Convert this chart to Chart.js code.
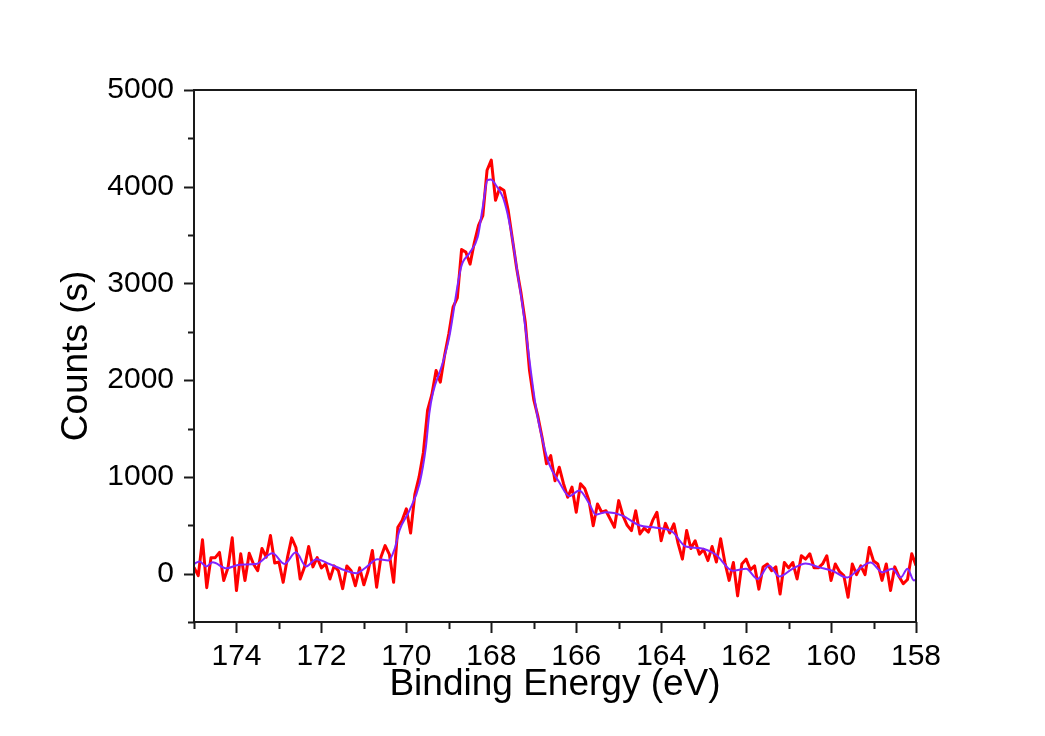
<!DOCTYPE html>
<html>
<head>
<meta charset="utf-8">
<title>XPS S 2p</title>
<script src="https://cdn.jsdelivr.net/npm/chart.js@4/dist/chart.umd.min.js"></script>
<style>
  html, body { margin: 0; padding: 0; background: #fff; }
  #wrap { position: relative; width: 1045px; height: 736px; }
</style>
</head>
<body>
<div id="wrap"><canvas id="xps"></canvas></div>
<script>
// Espectro medido (rojo), energía de enlace en eV
const energiaMedida = [
  175.0, 174.9, 174.8, 174.7, 174.6, 174.5, 174.4, 174.3, 174.2, 174.1,
  174.0, 173.9, 173.8, 173.7, 173.6, 173.5, 173.4, 173.3, 173.2, 173.1,
  173.0, 172.9, 172.8, 172.7, 172.6, 172.5, 172.4, 172.3, 172.2, 172.1,
  172.0, 171.9, 171.8, 171.7, 171.6, 171.5, 171.4, 171.3, 171.2, 171.1,
  171.0, 170.9, 170.8, 170.7, 170.6, 170.5, 170.4, 170.3, 170.2, 170.1,
  170.0, 169.9, 169.8, 169.7, 169.6, 169.5, 169.4, 169.3, 169.2, 169.1,
  169.0, 168.9, 168.8, 168.7, 168.6, 168.5, 168.4, 168.3, 168.2, 168.1,
  168.0, 167.9, 167.8, 167.7, 167.6, 167.5, 167.4, 167.3, 167.2, 167.1,
  167.0, 166.9, 166.8, 166.7, 166.6, 166.5, 166.4, 166.3, 166.2, 166.1,
  166.0, 165.9, 165.8, 165.7, 165.6, 165.5, 165.4, 165.3, 165.2, 165.1,
  165.0, 164.9, 164.8, 164.7, 164.6, 164.5, 164.4, 164.3, 164.2, 164.1,
  164.0, 163.9, 163.8, 163.7, 163.6, 163.5, 163.4, 163.3, 163.2, 163.1,
  163.0, 162.9, 162.8, 162.7, 162.6, 162.5, 162.4, 162.3, 162.2, 162.1,
  162.0, 161.9, 161.8, 161.7, 161.6, 161.5, 161.4, 161.3, 161.2, 161.1,
  161.0, 160.9, 160.8, 160.7, 160.6, 160.5, 160.4, 160.3, 160.2, 160.1,
  160.0, 159.9, 159.8, 159.7, 159.6, 159.5, 159.4, 159.3, 159.2, 159.1,
  159.0, 158.9, 158.8, 158.7, 158.6, 158.5, 158.4, 158.3, 158.2, 158.1,
  158.0
];
const cuentasMedidas = [
    65,  -20,  350, -145,  165,  165,  220,  -70,   60,  370,
  -175,  205,  -70,  210,  100,   30,  260,  170,  395,  110,
   120,  -90,  165,  370,  270,  -55,   65,  280,   70,  165,
    60,  100,  -55,   80,   30, -155,   80,   30, -125,   60,
  -115,   30,  240, -140,  170,  290,  200,  -90,  480,  550,
   670,  420,  820, 1000, 1250, 1690, 1850, 2100, 1980, 2255,
  2480, 2755, 2850, 3350, 3325, 3200, 3420, 3600, 3700, 4170,
  4275, 3860, 3990, 3960, 3750, 3450, 3150, 2900, 2600, 2100,
  1800, 1620, 1400, 1135, 1220,  960, 1100,  930,  790,  895,
   635,  930,  880,  755,  495,  720,  635,  650,  565,  480,
   755,  600,  500,  445,  650,  410,  470,  430,  550,  635,
   340,  520,  420,  515,  310,  150,  445,  260,  340,  200,
   250,  135,  280,  120,  360,  115,  -70,  115, -230,  100,
   150,   40,   80, -160,   70,  100,   30,   70, -210,  115,
    60,  115,  -55,  185,  150,  205,   60,   60,  100,  185,
   -70,  100,   20,  -20, -245,  100,  -10,   80,  -10,  270,
   130,  100,  -70,  100, -175,   70,  -30, -105,  -60,  205,
    85
];

// Curva suavizada / ajuste (violeta)
const energiaAjuste = [
  175.0, 174.87, 174.71, 174.56, 174.24, 173.93, 173.54, 173.15, 172.87, 172.6,
  172.36, 172.12, 171.81, 171.42, 171.18, 170.95, 170.68, 170.42, 170.28, 170.16,
  169.93, 169.69, 169.54, 169.46, 169.38, 169.15, 168.99, 168.71, 168.52, 168.32,
  168.2, 168.09, 168.01, 167.89, 167.73, 167.62, 167.5, 167.38, 167.26, 167.18,
  166.95, 166.79, 166.64, 166.4, 166.16, 165.93, 165.69, 165.54, 165.3, 164.91,
  164.52, 164.12, 163.73, 163.42, 163.11, 162.71, 162.32, 162.0, 161.73, 161.46,
  161.22, 160.91, 160.6, 160.28, 159.97, 159.62, 159.34, 159.07, 158.79, 158.56,
  158.36, 158.2, 158.05, 158.0
];
const cuentasAjuste = [
   100,  125,   75,  117,   55,   93,  100,  210,  100,  220,
    75,  150,  100,   30,    5,   65,  150,  135,  250,  450,
   650,  930, 1310, 1655, 1860, 2170, 2445, 3170, 3310, 3480,
  3790, 4070, 4075, 4015, 3895, 3725, 3450, 3100, 2755, 2480,
  1720, 1375, 1135,  945,  800,  860,  720,  610,  635,  600,
   500,  475,  430,  280,  265,  195,   30,   50,  -55,   85,
   -30,   50,  105,   65,   30,  -40,   50,  115,   15,   50,
   -40,   50,  -70,  -60
];

// Marcas de eje
const ticksX = [174, 172, 170, 168, 166, 164, 162, 160, 158];
const ticksY = [0, 1000, 2000, 3000, 4000, 5000];

const FUENTE = "'Liberation Sans', Arial, sans-serif";

function aPuntos(xs, ys) {
  return xs.map((x, i) => ({ x: x, y: ys[i] }));
}

// Marco completo + marcas mayores y menores hacia afuera
const marcoEjes = {
  id: 'marcoEjes',
  afterDraw(chart) {
    const { ctx, chartArea: a, scales: { x, y } } = chart;
    ctx.save();
    ctx.strokeStyle = '#1a1a1a';
    ctx.lineWidth = 2;
    ctx.strokeRect(a.left, a.top, a.right - a.left, a.bottom - a.top);
    ctx.beginPath();
    for (let v = Math.ceil(x.min); v <= x.max; v++) {
      const px = Math.round(x.getPixelForValue(v)) + 0.5;
      const largo = v % 2 === 0 ? 11 : 7;
      ctx.moveTo(px, a.bottom);
      ctx.lineTo(px, a.bottom + largo);
    }
    for (let v = y.min; v <= y.max; v += 500) {
      const py = Math.round(y.getPixelForValue(v)) + 0.5;
      const largo = v % 1000 === 0 ? 10 : 6;
      ctx.moveTo(a.left, py);
      ctx.lineTo(a.left - largo, py);
    }
    ctx.stroke();
    ctx.restore();
  }
};

const ctx = document.getElementById('xps').getContext('2d');
new Chart(ctx, {
  type: 'line',
  data: {
    datasets: [
      {
        label: 'Ajuste',
        data: aPuntos(energiaAjuste, cuentasAjuste),
        borderColor: '#8024FF',
        borderWidth: 2,
        pointRadius: 0,
        cubicInterpolationMode: 'monotone'
      },
      {
        label: 'Medido',
        data: aPuntos(energiaMedida, cuentasMedidas),
        borderColor: '#FF0000',
        borderWidth: 3,
        borderJoinStyle: 'round',
        pointRadius: 0,
        tension: 0
      }
    ]
  },
  options: {
    responsive: true,
    maintainAspectRatio: false,
    animation: false,
    layout: { padding: { left: 0, right: 129, top: 90, bottom: 0 } },
    plugins: {
      legend: { display: false },
      tooltip: { enabled: false }
    },
    scales: {
      x: {
        type: 'linear',
        reverse: true,
        min: 158,
        max: 175,
        afterBuildTicks: s => { s.ticks = ticksX.map(v => ({ value: v })); },
        afterFit: s => { s.height = 114; },
        grid: { display: false, drawTicks: false },
        border: { display: false },
        ticks: {
          padding: 17,
          maxRotation: 0,
          autoSkip: false,
          color: '#000',
          font: { family: FUENTE, size: 30 },
          callback: v => String(v)
        },
        title: {
          display: true,
          text: 'Binding Energy (eV)',
          color: '#000',
          padding: { top: 0, bottom: 29 },
          font: { family: FUENTE, size: 37 }
        }
      },
      y: {
        min: -500,
        max: 5000,
        afterBuildTicks: s => { s.ticks = ticksY.map(v => ({ value: v })); },
        afterFit: s => { s.width = 194; },
        grid: { display: false, drawTicks: false },
        border: { display: false },
        ticks: {
          padding: 20,
          color: '#000',
          font: { family: FUENTE, size: 30 },
          callback: v => String(v)
        },
        title: {
          display: true,
          text: 'Counts (s)',
          color: '#000',
          padding: { top: 55, bottom: 0 },
          font: { family: FUENTE, size: 37 }
        }
      }
    }
  },
  plugins: [marcoEjes]
});
</script>
</body>
</html>
